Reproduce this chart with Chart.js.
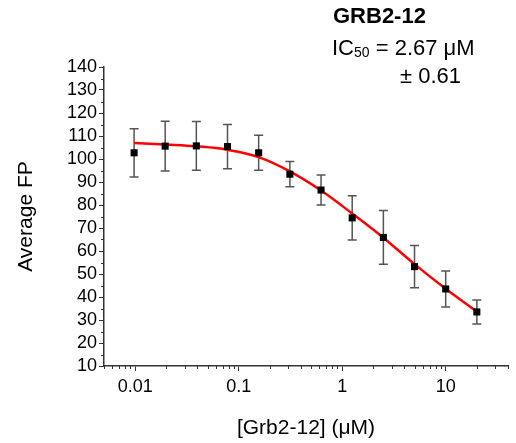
<!DOCTYPE html>
<html>
<head>
<meta charset="utf-8">
<script src="https://cdn.jsdelivr.net/npm/chart.js@4.4.1/dist/chart.umd.min.js"></script>
<style>
  html, body { margin: 0; padding: 0; background: #fff; }
  #wrap { width: 516px; height: 443px; position: relative; }
</style>
</head>
<body>
<div id="wrap"><canvas id="fpChart"></canvas></div>
<script>
// concentrations (uM), mean FP and error from the picture
const conc = [0.00977, 0.0195, 0.039, 0.078, 0.156, 0.3125, 0.625, 1.25, 2.5, 5, 10, 20];
const fpMean = [102.7, 105.6, 105.7, 105.4, 102.7, 93.4, 86.5, 74.4, 65.9, 53.2, 43.5, 33.5];
const fpErr = [10.5, 10.8, 10.6, 9.6, 7.6, 5.5, 6.5, 9.6, 11.7, 9.2, 7.8, 5.2];

// fitted curve
const fitX = [0.00977, 0.0195, 0.039, 0.078, 0.156, 0.3125, 0.625, 1.25, 2.5, 5, 10, 20];
const fitY = [107.0, 106.3, 105.5, 104.0, 100.8, 94.6, 86.3, 76.3, 65.8, 54.3, 43.6, 33.7];

const xTickValues = [0.01, 0.1, 1, 10];
const xTickLabels = ['0.01', '0.1', '1', '10'];

const FONT = "'Liberation Sans', Arial, sans-serif";
const AXIS = '#333';

const extras = {
  id: 'extras',
  beforeDatasetsDraw(chart) {
    const ctx = chart.ctx;
    const xs = chart.scales.x, ys = chart.scales.y;
    ctx.save();
    ctx.strokeStyle = '#555';
    ctx.lineWidth = 1.5;
    conc.forEach((c, i) => {
      const px = xs.getPixelForValue(c);
      const top = ys.getPixelForValue(fpMean[i] + fpErr[i]);
      const bot = ys.getPixelForValue(fpMean[i] - fpErr[i]);
      ctx.beginPath();
      ctx.moveTo(px, top); ctx.lineTo(px, bot);
      ctx.moveTo(px - 4.5, top); ctx.lineTo(px + 4.5, top);
      ctx.moveTo(px - 4.5, bot); ctx.lineTo(px + 4.5, bot);
      ctx.stroke();
    });
    ctx.restore();
  },
  afterDraw(chart) {
    const ctx = chart.ctx;
    const xs = chart.scales.x, ys = chart.scales.y;
    const area = chart.chartArea;
    ctx.save();
    // minor ticks
    ctx.strokeStyle = AXIS;
    ctx.lineWidth = 1;
    ctx.beginPath();
    for (let v = 15; v < 140; v += 10) {
      const py = Math.round(ys.getPixelForValue(v)) + 0.5;
      ctx.moveTo(area.left, py); ctx.lineTo(area.left - 3, py);
    }
    for (let d = -3; d <= 1; d++) {
      for (let m = 2; m <= 9; m++) {
        const v = m * Math.pow(10, d);
        if (v < xs.min || v > xs.max) continue;
        const px = Math.round(xs.getPixelForValue(v)) + 0.5;
        ctx.moveTo(px, area.bottom); ctx.lineTo(px, area.bottom + 3);
      }
    }
    ctx.stroke();

    // annotation
    ctx.fillStyle = '#000';
    ctx.textBaseline = 'alphabetic';
    ctx.textAlign = 'left';
    ctx.font = 'bold 22px ' + FONT;
    ctx.fillText('GRB2-12', 333, 23);
    ctx.font = '22px ' + FONT;
    ctx.fillText('IC', 332, 55);
    let x = 332 + ctx.measureText('IC').width;
    ctx.font = '14px ' + FONT;
    ctx.fillText('50', x, 57);
    x += ctx.measureText('50').width;
    ctx.font = '22px ' + FONT;
    ctx.fillText(' = 2.67 μM', x, 55);
    ctx.fillText('± 0.61', 400, 83);
    ctx.restore();
  }
};

const ctx = document.getElementById('fpChart').getContext('2d');
const fpChart = new Chart(ctx, {
  type: 'scatter',
  data: {
    datasets: [
      {
        label: 'fit',
        type: 'line',
        data: fitX.map((x, i) => ({ x: x, y: fitY[i] })),
        borderColor: '#ff0000',
        borderWidth: 2.5,
        pointRadius: 0,
        tension: 0.4,
        fill: false,
        order: 2
      },
      {
        label: 'Average FP',
        data: conc.map((x, i) => ({ x: x, y: fpMean[i] })),
        pointStyle: 'rect',
        pointRadius: 5,
        backgroundColor: '#000',
        borderColor: '#000',
        borderWidth: 0,
        order: 1
      }
    ]
  },
  options: {
    responsive: true,
    maintainAspectRatio: false,
    animation: false,
    layout: { padding: { left: 0, right: 8, top: 67, bottom: 0 } },
    plugins: {
      legend: { display: false },
      tooltip: { enabled: false }
    },
    scales: {
      x: {
        type: 'logarithmic',
        min: 0.005,
        max: 40,
        afterBuildTicks: (scale) => {
          scale.ticks = xTickValues.map(v => ({ value: v }));
        },
        afterFit: (scale) => { scale.height = 77; },
        ticks: {
          color: '#000',
          font: { family: FONT, size: 18 },
          padding: 5,
          maxRotation: 0,
          autoSkip: false,
          callback: (v) => {
            const i = xTickValues.indexOf(v);
            return i >= 0 ? xTickLabels[i] : '';
          }
        },
        grid: { drawOnChartArea: false, tickLength: 5, tickColor: AXIS, tickWidth: 1 },
        border: { color: AXIS, width: 1.5 },
        title: {
          display: true,
          text: '[Grb2-12] (μM)',
          color: '#000',
          font: { family: FONT, size: 21 },
          padding: { top: 0, bottom: 2 }
        }
      },
      y: {
        min: 10,
        max: 140,
        afterFit: (scale) => { scale.width = 104; },
        ticks: {
          stepSize: 10,
          autoSkip: false,
          color: '#000',
          font: { family: FONT, size: 18 },
          padding: 2
        },
        grid: { drawOnChartArea: false, tickLength: 5, tickColor: AXIS, tickWidth: 1 },
        border: { color: AXIS, width: 1.5 },
        title: {
          display: true,
          text: 'Average FP',
          color: '#000',
          font: { family: FONT, size: 21 },
          padding: { top: 14, bottom: 0 }
        }
      }
    }
  },
  plugins: [extras]
});
</script>
</body>
</html>
